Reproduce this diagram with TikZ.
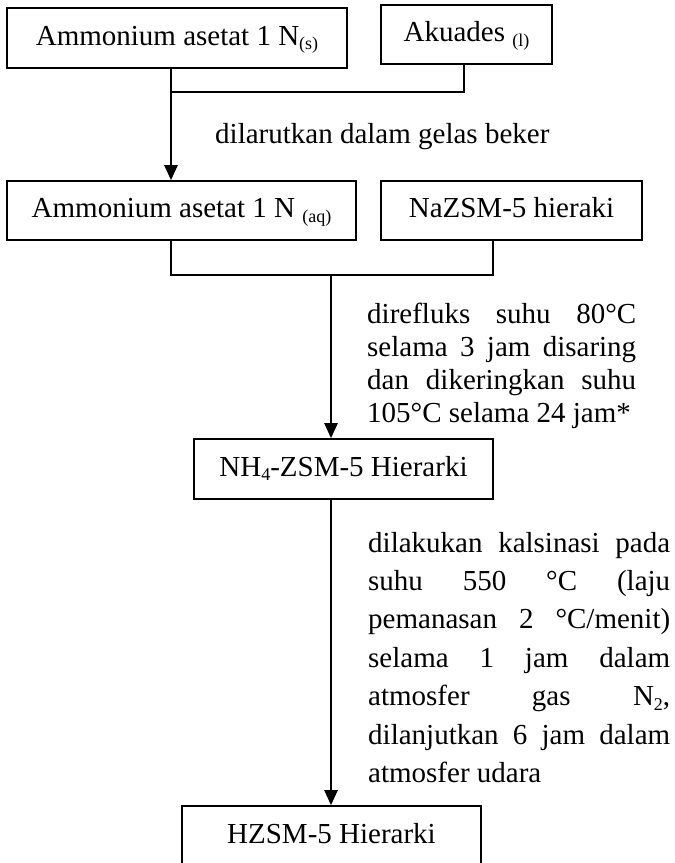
\documentclass[tikz,border=0pt]{standalone}
\usepackage{fontspec}
\setmainfont{Liberation Serif}
\usetikzlibrary{arrows.meta}

% lowered small index, as in N(s), NH4, N2
\newcommand{\lowidx}[1]{\raisebox{-4.5pt}{\fontsize{18}{18}\selectfont #1}}
\newcommand{\flowfont}{\fontsize{29}{33}\selectfont}

\begin{document}
\begin{tikzpicture}[x=1pt,y=-1pt,
  stepbox/.style={draw, line width=1.6pt, inner sep=0pt, font=\flowfont,
                  text height=20pt, text depth=6pt, minimum height=60pt},
  link/.style={line width=1.6pt},
  flow/.style={line width=2.4pt, -{Triangle[width=13pt,length=15pt]}},
  note/.style={inner sep=0pt, font=\flowfont, anchor=base west}]

\useasboundingbox (0,0) rectangle (675,863);

% process boxes
\node[stepbox, minimum width=340pt, minimum height=60pt] (amsolid) at (177,38) {Ammonium asetat 1 N\lowidx{(s)}};
\node[stepbox, minimum width=171pt, minimum height=59pt] (aku) at (466.5,34.5) {Akuades \lowidx{(l)}};
\node[stepbox, minimum width=349pt, minimum height=59pt] (amaq) at (181.5,210.5) {Ammonium asetat 1 N \lowidx{(aq)}};
\node[stepbox, minimum width=261pt, minimum height=59pt] (nazsm) at (511.5,210.5) {NaZSM-5 hieraki};
\node[stepbox, minimum width=299pt] (nh4) at (343.5,469) {NH\lowidx{4}-ZSM-5 Hierarki};
\node[stepbox, minimum width=299pt] (hzsm) at (331.5,836) {HZSM-5 Hierarki};

% junction points
\coordinate (j1) at (171,92);
\coordinate (akdrop) at (464,92);
\coordinate (b1) at (171,275);
\coordinate (b2) at (493,275);
\coordinate (j2) at (331,275);

% connectors
\draw[link] (aku.south -| akdrop) -- (akdrop) -- (j1);
\draw[flow] (amsolid.south -| j1) -- (amaq.north -| j1);
\draw[link] (amaq.south -| b1) -- (b1) -- (b2) -- (nazsm.south -| b2);
\draw[flow] (j2) -- (nh4.north -| j2);
\draw[flow] (nh4.south -| j2) -- (hzsm.north -| j2);

% step descriptions
\node[note] (dissolve) at (215,143) {dilarutkan dalam gelas beker};

\node[note] (reflux) at (367,323) {\vtop{\baselineskip=33.3pt\lineskiplimit=-100pt
\hbox to 269pt{direfluks suhu 80°C}
\hbox to 269pt{selama 3 jam disaring}
\hbox to 269pt{dan dikeringkan suhu}
\hbox{105°C selama 24 jam*}}};

\node[note] (calcine) at (368,552) {\vtop{\baselineskip=38.4pt\lineskiplimit=-100pt
\hbox to 302pt{dilakukan kalsinasi pada}
\hbox to 302pt{suhu 550 °C (laju}
\hbox to 302pt{pemanasan 2 °C/menit)}
\hbox to 302pt{selama 1 jam dalam}
\hbox to 302pt{atmosfer gas N\lowidx{2},}
\hbox to 302pt{dilanjutkan 6 jam dalam}
\hbox{atmosfer udara}}};

\end{tikzpicture}
\end{document}
